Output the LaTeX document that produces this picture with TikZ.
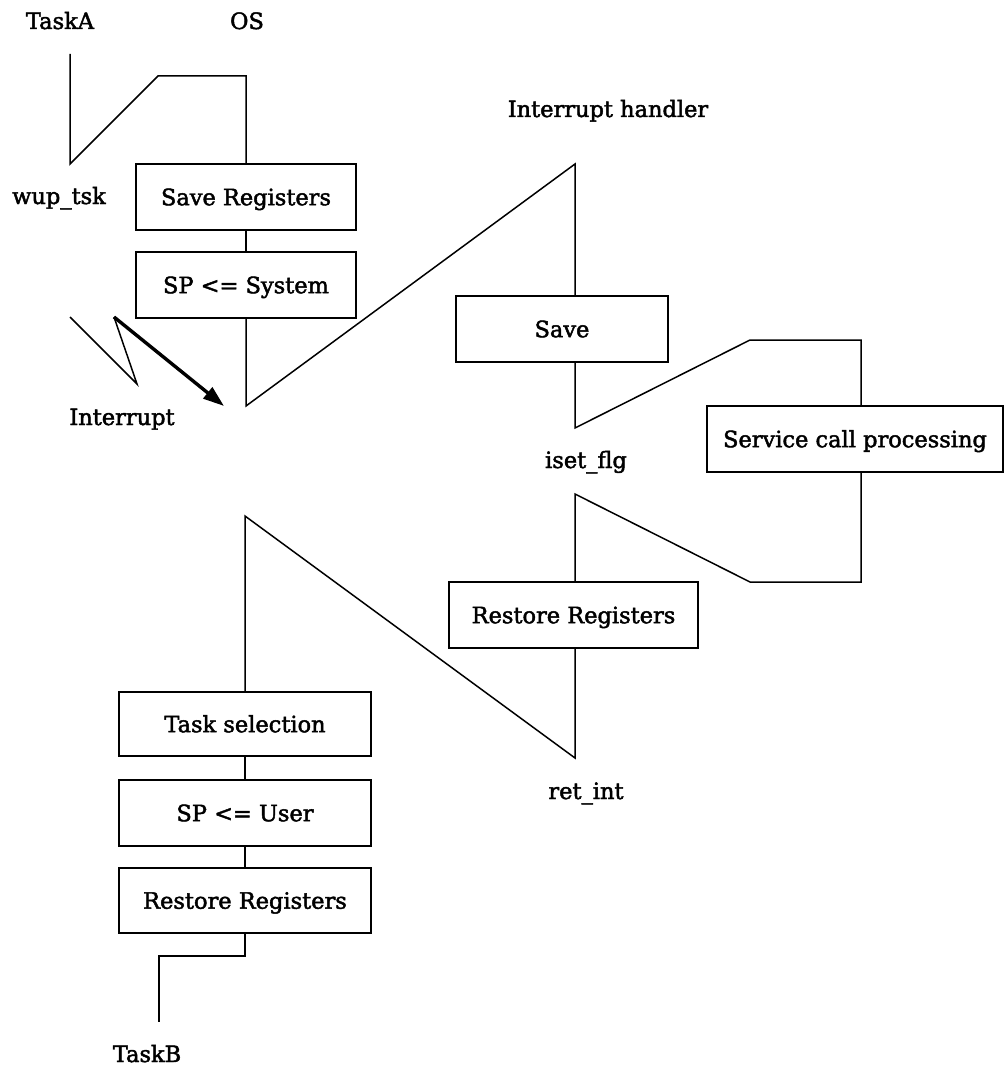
\documentclass[tikz,border=0pt]{standalone}
\usepackage{fontspec}
\setmainfont{DejaVu Serif}[FakeBold=2]
\newfontfamily\heavyserif{DejaVu Serif}[FakeBold=2]
\usetikzlibrary{arrows.meta}
\begin{document}
\begin{tikzpicture}[x=1pt,y=-1pt,
  box/.style={draw,line width=1.5pt,rectangle,inner sep=0pt,minimum height=66pt,
    text height=16.4pt,text depth=0pt,font=\heavyserif\fontsize{22.5}{27}\selectfont},
  lbl/.style={anchor=base,inner sep=0pt,font=\heavyserif\fontsize{22.5}{27}\selectfont},
  ln/.style={line width=1.5pt,line join=miter}]
\useasboundingbox[fill=white] (0,0) rectangle (1005,1070);

% boxes
\node[box,minimum width=220pt] (sr1) at (246,197) {Save Registers};
\node[box,minimum width=220pt] (sps) at (246,285) {SP <= System};
\node[box,minimum width=212pt] (save) at (562,329) {Save};
\node[box,minimum width=296pt] (scp) at (855,439) {Service call processing};
\node[box,minimum width=249pt] (rr1) at (573.5,615) {Restore Registers};
\node[box,minimum width=252pt,minimum height=64pt] (ts) at (245,724) {Task selection};
\node[box,minimum width=252pt] (spu) at (245,813) {SP <= User};
\node[box,minimum width=252pt,minimum height=65pt] (rr2) at (245,900.5) {Restore Registers};

% labels
\node[lbl] (taska) at (60,29) {TaskA};
\node[lbl] (os) at (247,29) {OS};
\node[lbl] (wup) at (59,204) {wup\_tsk};
\node[lbl] (ih) at (608,117) {Interrupt handler};
\node[lbl] (intr) at (122,425) {Interrupt};
\node[lbl] (iset) at (586,468) {iset\_flg};
\node[lbl] (ret) at (586,799) {ret\_int};
\node[lbl] (taskb) at (147,1062) {TaskB};

% coordinates
\coordinate (a1) at (70,54);
\coordinate (a2) at (70,164);
\coordinate (a3) at (158,76);
\coordinate (b1) at (246,406);
\coordinate (b2) at (575,164);
\coordinate (c1) at (575,428);
\coordinate (c2) at (750,340);
\coordinate (c3) at (861,340);
\coordinate (d1) at (861,582);
\coordinate (d2) at (750,582);
\coordinate (d3) at (575,494);
\coordinate (e1) at (575,758);
\coordinate (e2) at (245,516);
\coordinate (f1) at (245,956);
\coordinate (f2) at (159,956);
\coordinate (f3) at (159,1022);
\coordinate (g1) at (70,317);
\coordinate (g2) at (137,384);
\coordinate (g3) at (114,317);
\coordinate (g4) at (224,406);

% flow lines
\draw[ln] (a1) -- (a2) -- (a3) -| (sr1.north);
\draw[ln] (sr1) -- (sps);
\draw[ln] (sps.south) -- (b1) -- (b2) -- (b2 |- save.north);
\draw[ln] (save.south -| b2) -- (c1) -- (c2) -- (c3) -- (c3 |- scp.north);
\draw[ln] (scp.south -| d1) -- (d1) -- (d2) -- (d3) -- (d3 |- rr1.north);
\draw[ln] (rr1.south -| e1) -- (e1) -- (e2) -- (ts.north);
\draw[ln] (ts) -- (spu);
\draw[ln] (spu) -- (rr2);
\draw[ln] (rr2.south) -- (f1) -- (f2) -- (f3);

% interrupt
\draw[ln] (g1) -- (g2) -- (g3);
\draw[line width=3.4pt,-{Triangle[length=21pt,width=14pt]}] (g3) -- (g4);
\end{tikzpicture}
\end{document}
